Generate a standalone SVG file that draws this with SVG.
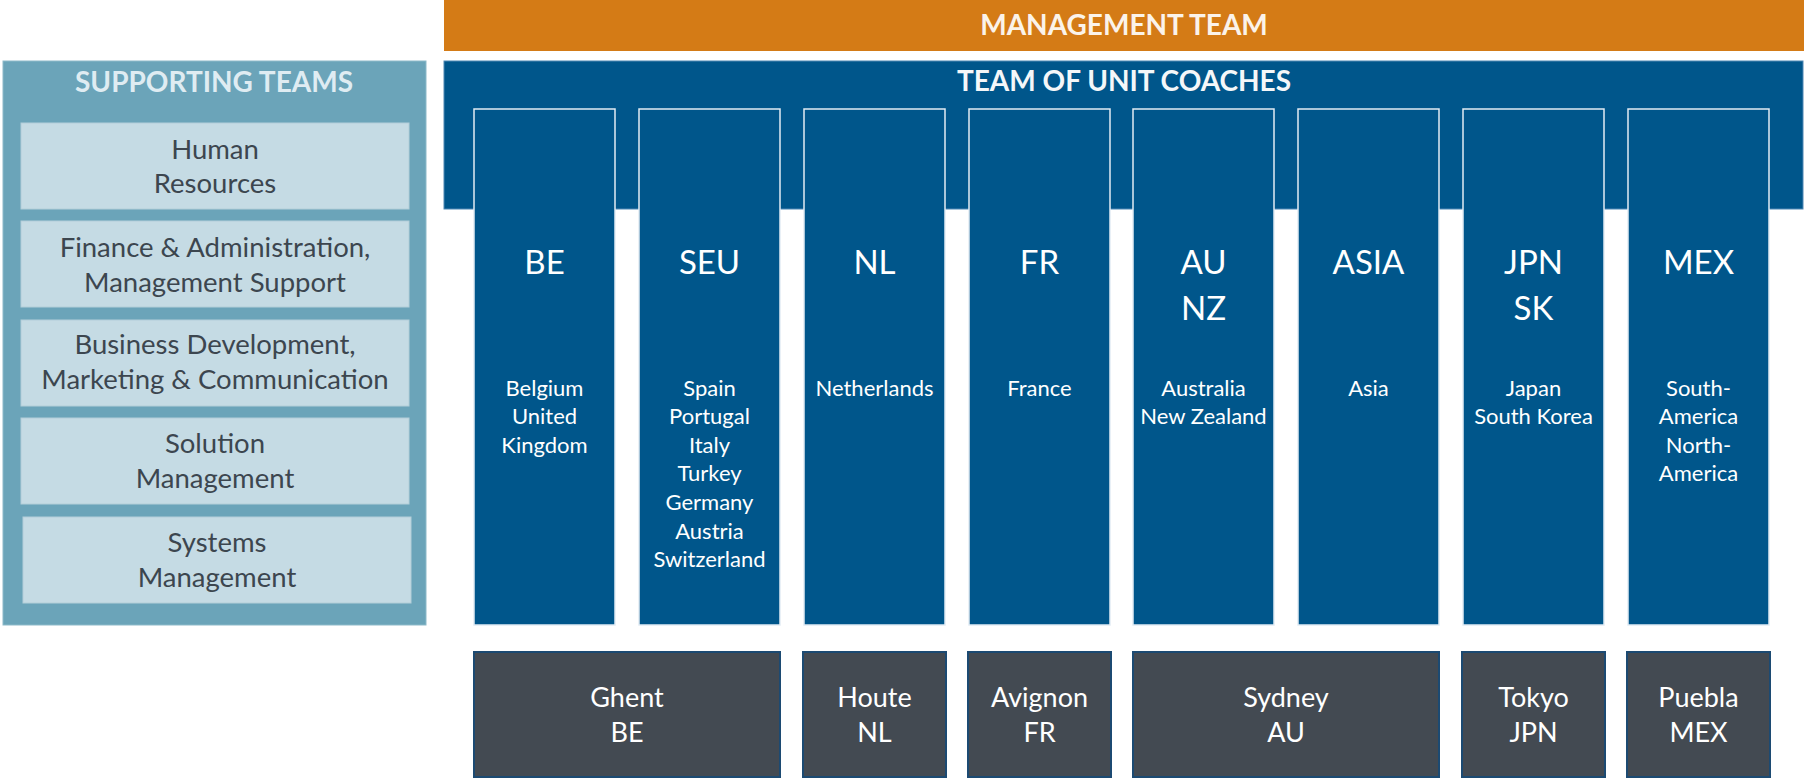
<svg xmlns="http://www.w3.org/2000/svg" width="1804" height="778" viewBox="0 0 1804 778">
<style>
text{font-family:Lato,"Open Sans","Liberation Sans",sans-serif;text-anchor:middle}
.hdr{font-weight:bold;font-size:28px;fill:#f4f7f9}
.sup{fill:#c5dbe4;stroke:#b3ced9;stroke-width:1}
.supt{font-size:27.5px;fill:#3c464f}
.col{fill:#00568b;stroke:#e2ecf4;stroke-width:1.5}
.code{font-size:33px;fill:#ffffff}
.cty{font-size:22px;fill:#ffffff}
.loc{fill:#434a52;stroke:#1c4a72;stroke-width:2}
.loct{font-size:27px;fill:#ffffff}
</style>
<g id="management">
<rect x="444" y="0" width="1360" height="51" fill="#d47b16"/>
<text class="hdr" x="1124" y="35" style="fill:#fbf3ea">MANAGEMENT TEAM</text>
</g>
<g id="unit-coaches">
<rect x="444" y="61" width="1359" height="148" fill="#00568b" stroke="#4f87b4" stroke-width="1"/>
<text class="hdr" x="1124" y="91">TEAM OF UNIT COACHES</text>
</g>
<g id="supporting">
<rect x="3" y="61" width="423" height="564" fill="#6ba4b9" stroke="#8dbac9" stroke-width="1"/>
<text class="hdr" x="214" y="92" style="fill:#dfecf2">SUPPORTING TEAMS</text>
<g id="hr"><rect class="sup" x="21" y="123" width="388" height="86"/><text class="supt" x="215" y="159">Human</text><text class="supt" x="215" y="193">Resources</text></g>
<g id="finance"><rect class="sup" x="21" y="221" width="388" height="86"/><text class="supt" x="215" y="257">Finance &amp; Administration,</text><text class="supt" x="215" y="292">Management Support</text></g>
<g id="bizdev"><rect class="sup" x="21" y="320" width="388" height="86"/><text class="supt" x="215" y="354">Business Development,</text><text class="supt" x="215" y="389">Marketing &amp; Communication</text></g>
<g id="solution"><rect class="sup" x="21" y="418" width="388" height="86"/><text class="supt" x="215" y="453">Solution</text><text class="supt" x="215" y="488">Management</text></g>
<g id="systems"><rect class="sup" x="23" y="517" width="388" height="86"/><text class="supt" x="217" y="552">Systems</text><text class="supt" x="217" y="587">Management</text></g>
</g>
<g id="col-be"><rect class="col" x="474" y="109" width="141" height="516"/><text class="code" x="544.5" y="274">BE</text><text class="cty" x="544.5" y="396">Belgium</text><text class="cty" x="544.5" y="424">United</text><text class="cty" x="544.5" y="453">Kingdom</text></g>
<g id="col-seu"><rect class="col" x="639" y="109" width="141" height="516"/><text class="code" x="709.5" y="274">SEU</text><text class="cty" x="709.5" y="396">Spain</text><text class="cty" x="709.5" y="424">Portugal</text><text class="cty" x="709.5" y="453">Italy</text><text class="cty" x="709.5" y="481">Turkey</text><text class="cty" x="709.5" y="510">Germany</text><text class="cty" x="709.5" y="539">Austria</text><text class="cty" x="709.5" y="567">Switzerland</text></g>
<g id="col-nl"><rect class="col" x="804" y="109" width="141" height="516"/><text class="code" x="874.5" y="274">NL</text><text class="cty" x="874.5" y="396">Netherlands</text></g>
<g id="col-fr"><rect class="col" x="969" y="109" width="141" height="516"/><text class="code" x="1039.5" y="274">FR</text><text class="cty" x="1039.5" y="396">France</text></g>
<g id="col-au"><rect class="col" x="1133" y="109" width="141" height="516"/><text class="code" x="1203.5" y="274">AU</text><text class="code" x="1203.5" y="320">NZ</text><text class="cty" x="1203.5" y="396">Australia</text><text class="cty" x="1203.5" y="424">New Zealand</text></g>
<g id="col-asia"><rect class="col" x="1298" y="109" width="141" height="516"/><text class="code" x="1368.5" y="274">ASIA</text><text class="cty" x="1368.5" y="396">Asia</text></g>
<g id="col-jpn"><rect class="col" x="1463" y="109" width="141" height="516"/><text class="code" x="1533.5" y="274">JPN</text><text class="code" x="1533.5" y="320">SK</text><text class="cty" x="1533.5" y="396">Japan</text><text class="cty" x="1533.5" y="424">South Korea</text></g>
<g id="col-mex"><rect class="col" x="1628" y="109" width="141" height="516"/><text class="code" x="1698.5" y="274">MEX</text><text class="cty" x="1698.5" y="396">South-</text><text class="cty" x="1698.5" y="424">America</text><text class="cty" x="1698.5" y="453">North-</text><text class="cty" x="1698.5" y="481">America</text></g>
<g id="loc-ghent"><rect class="loc" x="474" y="652" width="306" height="125"/><text class="loct" x="627" y="707">Ghent</text><text class="loct" x="627" y="742">BE</text></g>
<g id="loc-houte"><rect class="loc" x="803" y="652" width="143" height="125"/><text class="loct" x="874.5" y="707">Houte</text><text class="loct" x="874.5" y="742">NL</text></g>
<g id="loc-avignon"><rect class="loc" x="968" y="652" width="143" height="125"/><text class="loct" x="1039.5" y="707">Avignon</text><text class="loct" x="1039.5" y="742">FR</text></g>
<g id="loc-sydney"><rect class="loc" x="1133" y="652" width="306" height="125"/><text class="loct" x="1286" y="707">Sydney</text><text class="loct" x="1286" y="742">AU</text></g>
<g id="loc-tokyo"><rect class="loc" x="1462" y="652" width="143" height="125"/><text class="loct" x="1533.5" y="707">Tokyo</text><text class="loct" x="1533.5" y="742">JPN</text></g>
<g id="loc-puebla"><rect class="loc" x="1627" y="652" width="143" height="125"/><text class="loct" x="1698.5" y="707">Puebla</text><text class="loct" x="1698.5" y="742">MEX</text></g>
<g id="connectors"/>
</svg>
